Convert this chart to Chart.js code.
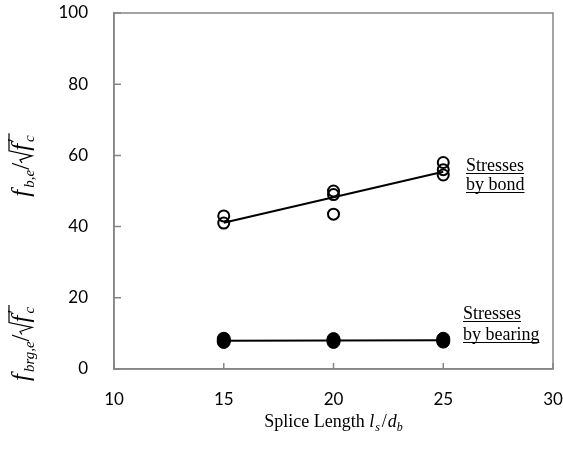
<!DOCTYPE html>
<html>
<head>
<meta charset="utf-8">
<script src="https://cdn.jsdelivr.net/npm/chart.js@4/dist/chart.umd.min.js"></script>
<style>
html, body { margin: 0; padding: 0; background: #fff; }
</style>
</head>
<body>
<canvas id="c" width="563" height="457"></canvas>
<script>
// measured values, splice length l_s/d_b vs normalised stress
var bondX = [15, 15, 20, 20, 20, 25, 25, 25];
var bondY = [41, 43, 43.5, 49, 50, 54.5, 56, 58];
var brgX = [15, 15, 15, 20, 20, 20, 25, 25, 25];
var brgY = [7.6, 8, 8.5, 7.6, 8, 8.4, 7.7, 8.1, 8.5];
// linear fits
var fitX = [15, 25];
var bondFit = [41.1, 55.4];
var brgFit = [7.95, 8.1];
var xTicks = [10, 15, 20, 25, 30];
var yTicks = [0, 20, 40, 60, 80, 100];

var axisColor = '#868686';
var serif = '"Liberation Serif", "Times New Roman", serif';

function pts(xs, ys) {
  return xs.map(function (x, i) { return { x: x, y: ys[i] }; });
}

// text with sub/superscripts and a radical
function partsWidth(ctx, parts) {
  var w = 0;
  parts.forEach(function (p) {
    if (p.sqrt) { w += 12 + partsWidth(ctx, p.sqrt) + 2; }
    else { ctx.font = p.font; w += ctx.measureText(p.t).width + (p.gap || 0); }
  });
  return w;
}
function drawParts(ctx, parts, x, y) {
  parts.forEach(function (p) {
    if (p.sqrt) {
      var inner = partsWidth(ctx, p.sqrt);
      ctx.beginPath();
      ctx.moveTo(x, y - 7);
      ctx.lineTo(x + 3, y - 9);
      ctx.lineTo(x + 7, y + 3);
      ctx.lineTo(x + 12, y - 20);
      ctx.lineTo(x + 12 + inner + 2, y - 20);
      ctx.lineWidth = 1.2;
      ctx.strokeStyle = '#000';
      ctx.stroke();
      x = drawParts(ctx, p.sqrt, x + 12, y) + 2;
    } else {
      ctx.font = p.font;
      ctx.fillText(p.t, x, y + (p.dy || 0));
      x += ctx.measureText(p.t).width + (p.gap || 0);
    }
  });
  return x;
}

var big = 'italic 25px ' + serif;
var sub = 'italic 15px ' + serif;
function ylab(subText) {
  return [
    { t: 'f', font: big, gap: 2 },
    { t: subText, font: sub, dy: 5 },
    { t: '/', font: '25px ' + serif },
    { sqrt: [
      { t: 'f', font: big, gap: 2 },
      { t: '\u2032', font: '18px ' + serif, dy: -8, gap: -4 },
      { t: 'c', font: sub, dy: 5 }
    ] }
  ];
}

// keep the plot box where the reference has it
function noPad(s) {
  s.paddingTop = 0; s.paddingBottom = 0; s.paddingLeft = 0; s.paddingRight = 0;
}

var titles = {
  id: 'titles',
  beforeDatasetsDraw: function (chart) {
    var ctx = chart.ctx, a = chart.chartArea;
    var xs = chart.scales.x, ys = chart.scales.y;
    ctx.save();
    // frame
    ctx.strokeStyle = axisColor;
    ctx.lineWidth = 1.5;
    ctx.strokeRect(a.left, a.top, a.right - a.left, a.bottom - a.top);
    // inside ticks
    ctx.beginPath();
    xTicks.forEach(function (v) {
      var px = xs.getPixelForValue(v);
      ctx.moveTo(px, a.bottom); ctx.lineTo(px, a.bottom - 6);
    });
    yTicks.forEach(function (v) {
      var py = ys.getPixelForValue(v);
      ctx.moveTo(a.left, py); ctx.lineTo(a.left + 7, py);
    });
    ctx.stroke();
    ctx.restore();
  },
  afterDraw: function (chart) {
    var ctx = chart.ctx, a = chart.chartArea;
    ctx.save();
    ctx.fillStyle = '#000';
    ctx.textBaseline = 'alphabetic';

    // x title
    var xt = [
      { t: 'Splice Length ', font: '18px ' + serif },
      { t: 'l', font: 'italic 18px ' + serif, gap: 1 },
      { t: 's', font: 'italic 12px ' + serif, dy: 4, gap: 2 },
      { t: '/', font: '18px ' + serif, gap: 1 },
      { t: 'd', font: 'italic 18px ' + serif },
      { t: 'b', font: 'italic 12px ' + serif, dy: 4 }
    ];
    var w = partsWidth(ctx, xt);
    drawParts(ctx, xt, (a.left + a.right) / 2 - w / 2, 427);

    // y titles, rotated
    [[ylab('b,e'), 165], [ylab('brg,e'), 343]].forEach(function (l) {
      ctx.save();
      ctx.translate(29, l[1]);
      ctx.rotate(-Math.PI / 2);
      var lw = partsWidth(ctx, l[0]);
      drawParts(ctx, l[0], -lw / 2, 0);
      ctx.restore();
    });

    // underlined notes
    ctx.font = '18px ' + serif;
    ctx.lineWidth = 1;
    ctx.strokeStyle = '#000';
    [['Stresses', 466, 171], ['by bond', 466, 190],
     ['Stresses', 463, 319], ['by bearing', 463, 340]].forEach(function (n) {
      ctx.fillText(n[0], n[1], n[2]);
      var tw = ctx.measureText(n[0]).width;
      ctx.beginPath();
      ctx.moveTo(n[1], n[2] + 2.5);
      ctx.lineTo(n[1] + tw, n[2] + 2.5);
      ctx.stroke();
    });
    ctx.restore();
  }
};

new Chart(document.getElementById('c'), {
  type: 'scatter',
  data: {
    datasets: [
      {
        label: 'bond fit',
        data: pts(fitX, bondFit),
        showLine: true,
        borderColor: '#000',
        borderWidth: 2,
        pointRadius: 0
      },
      {
        label: 'bearing fit',
        data: pts(fitX, brgFit),
        showLine: true,
        borderColor: '#000',
        borderWidth: 2,
        pointRadius: 0
      },
      {
        label: 'bond',
        data: pts(bondX, bondY),
        pointRadius: 5.5,
        pointBorderWidth: 2,
        pointBorderColor: '#000',
        pointBackgroundColor: 'rgba(0,0,0,0)'
      },
      {
        label: 'bearing',
        data: pts(brgX, brgY),
        pointRadius: 6.5,
        pointBorderWidth: 1,
        pointBorderColor: '#000',
        pointBackgroundColor: '#000'
      }
    ]
  },
  options: {
    responsive: false,
    animation: false,
    devicePixelRatio: 1,
    layout: { autoPadding: false, padding: { left: 0, top: 13, right: 10, bottom: 0 } },
    plugins: {
      legend: { display: false },
      tooltip: { enabled: false }
    },
    scales: {
      x: {
        type: 'linear',
        min: 10,
        max: 30,
        afterBuildTicks: function (s) { s.ticks = xTicks.map(function (v) { return { value: v }; }); },
        afterFit: function (s) { s.height = 88; noPad(s); },
        grid: { display: true, drawOnChartArea: false, drawTicks: false },
        border: { color: axisColor, width: 1.5 },
        ticks: { color: '#000', padding: 20, font: { family: 'Lato', size: 17 } }
      },
      y: {
        type: 'linear',
        min: 0,
        max: 100,
        afterBuildTicks: function (s) { s.ticks = yTicks.map(function (v) { return { value: v }; }); },
        afterFit: function (s) { s.width = 114; noPad(s); },
        grid: { display: true, drawOnChartArea: false, drawTicks: false },
        border: { color: axisColor, width: 1.5 },
        ticks: { color: '#000', padding: 26, font: { family: 'Lato', size: 17 } }
      }
    }
  },
  plugins: [titles]
});
</script>
</body>
</html>
